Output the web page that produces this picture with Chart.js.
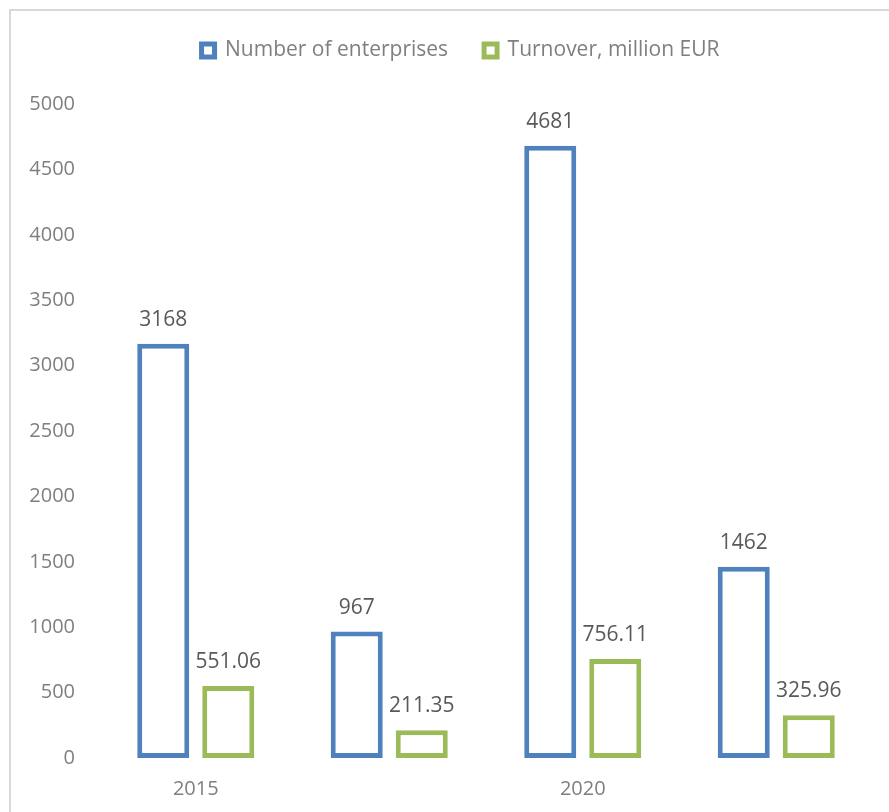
<!DOCTYPE html>
<html>
<head>
<meta charset="utf-8">
<script src="https://cdn.jsdelivr.net/npm/chart.js@4.4.1/dist/chart.umd.min.js"></script>
<style>
  html, body { margin: 0; padding: 0; background: #ffffff; overflow: hidden; }
  #frame { position: absolute; left: 9px; top: 9px; width: 1000px; height: 1000px; border: 2px solid #d9d9d9; box-sizing: border-box; }
  #wrap { position: absolute; left: 0; top: 0; width: 889px; height: 812px; overflow: hidden; }
</style>
</head>
<body>
<div id="frame"></div>
<div id="wrap"><canvas id="c" width="889" height="812"></canvas></div>
<script>
const categories = ['2015', '', '2020', ''];
const enterprises = [3168, 967, 4681, 1462];
const turnover = [551.06, 211.35, 756.11, 325.96];
const enterpriseLabels = ['3168', '967', '4681', '1462'];
const turnoverLabels = ['551.06', '211.35', '756.11', '325.96'];
const seriesNames = ['Number of enterprises', 'Turnover, million EUR'];
const yTicks = [0, 500, 1000, 1500, 2000, 2500, 3000, 3500, 4000, 4500, 5000];

const FONT = "'Open Sans', 'Liberation Sans', sans-serif";

const valueLabelPlugin = {
  id: 'valueLabels',
  afterDatasetsDraw(chart) {
    const ctx = chart.ctx;
    const labelSets = [enterpriseLabels, turnoverLabels];
    ctx.save();
    ctx.font = "21px " + FONT;
    ctx.fillStyle = '#595959';
    ctx.textAlign = 'center';
    ctx.textBaseline = 'middle';
    chart.data.datasets.forEach((ds, di) => {
      const meta = chart.getDatasetMeta(di);
      meta.data.forEach((bar, i) => {
        ctx.fillText(labelSets[di][i], bar.x, bar.y - 24);
      });
    });
    ctx.restore();
  }
};

const legendSpacer = {
  id: 'legendSpacer',
  beforeInit(chart) {
    const lg = chart.legend;
    if (lg) {
      const orig = lg.fit;
      lg.fit = function () { orig.call(this); this.height += 33; };
    }
  },
  afterLayout(chart) {
    if (chart.legend) { chart.legend.left += 20; }
  }
};

new Chart(document.getElementById('c'), {
  type: 'bar',
  data: {
    labels: categories,
    datasets: [
      {
        label: seriesNames[0],
        data: enterprises,
        backgroundColor: '#ffffff',
        borderColor: '#4F81BD',
        borderWidth: 5,
        borderSkipped: false,
        categoryPercentage: 0.672,
        barPercentage: 0.8
      },
      {
        label: seriesNames[1],
        data: turnover,
        backgroundColor: '#ffffff',
        borderColor: '#9BBB59',
        borderWidth: 5,
        borderSkipped: false,
        categoryPercentage: 0.672,
        barPercentage: 0.8
      }
    ]
  },
  options: {
    responsive: false,
    animation: false,
    devicePixelRatio: 1,
    layout: { padding: { left: 28, right: 16, top: 4, bottom: 0 } },
    plugins: {
      legend: {
        position: 'top',
        labels: {
          font: { family: FONT, size: 21 },
          color: '#7f7f7f',
          boxWidth: 13,
          boxHeight: 13,
          padding: 36
        }
      },
      tooltip: { enabled: false }
    },
    scales: {
      x: {
        grid: { display: false },
        border: { display: false },
        ticks: { font: { family: FONT, size: 20 }, color: '#7f7f7f', padding: 11 }
      },
      y: {
        min: 0,
        max: 5000,
        afterBuildTicks(axis) { axis.ticks = yTicks.map(v => ({ value: v })); },
        afterFit(axis) { axis.width = 71; },
        grid: { display: false, drawTicks: false, tickLength: 0 },
        border: { display: false },
        ticks: {
          font: { family: FONT, size: 20 },
          color: '#7f7f7f',
          padding: 24,
          callback: (v) => String(v)
        }
      }
    }
  },
  plugins: [valueLabelPlugin, legendSpacer]
});
</script>
</body>
</html>
